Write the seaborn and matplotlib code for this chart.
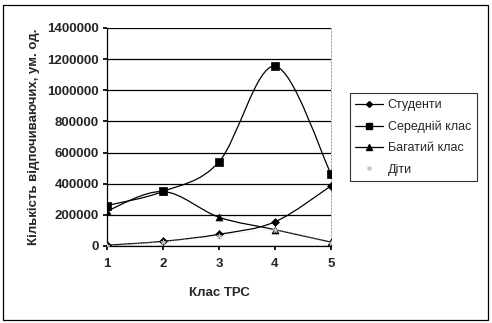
import numpy as np
import pandas as pd
import matplotlib
matplotlib.use("Agg")
import matplotlib.pyplot as plt
from matplotlib.path import Path
from matplotlib.patches import PathPatch, Rectangle
from matplotlib.lines import Line2D
import seaborn as sns

classes = [1, 2, 3, 4, 5]
students = [5000, 30000, 75000, 155000, 385000]
middle = [260000, 350000, 540000, 1155000, 465000]
rich = [225000, 350000, 185000, 105000, 25000]
children = [2000, 28000, 65000, 100000, 20000]
series_names = ["Студенти", "Середній клас", "Багатий клас", "Діти"]

sns.set_theme(style="white")
plt.rcParams['font.family'] = ['Liberation Sans', 'DejaVu Sans']

df = pd.DataFrame({
    "x": classes * 4,
    "y": students + middle + rich + children,
    "s": sum([[n] * 5 for n in series_names], []),
})

fig = plt.figure(figsize=(4.92, 3.23), dpi=100)
ax = fig.add_axes([0.2175, 0.2384, 0.455, 0.675])

colors = {"Студенти": "black", "Середній клас": "black", "Багатий клас": "black", "Діти": "#c8c8c8"}
markers = {"Студенти": "D", "Середній клас": "s", "Багатий клас": "^", "Діти": "*"}
msizes = {"Студенти": 4, "Середній клас": 6, "Багатий клас": 5, "Діти": 4}


def smooth_path(xs, ys, t=1 / 6):
    xs = np.asarray(xs, float); ys = np.asarray(ys, float)
    verts = [(xs[0], ys[0])]
    codes = [Path.MOVETO]
    n = len(xs)
    for i in range(n - 1):
        p0 = np.array([xs[max(i - 1, 0)], ys[max(i - 1, 0)]])
        p1 = np.array([xs[i], ys[i]])
        p2 = np.array([xs[i + 1], ys[i + 1]])
        p3 = np.array([xs[min(i + 2, n - 1)], ys[min(i + 2, n - 1)]])
        c1 = p1 + (p2 - p0) * t
        c2 = p2 - (p3 - p1) * t
        verts += [tuple(c1), tuple(c2), tuple(p2)]
        codes += [Path.CURVE4] * 3
    return Path(verts, codes)


for name in series_names:
    sub = df[df.s == name]
    lw = 0.6 if name == "Діти" else 0.9
    ls = (0, (1, 2)) if name == "Діти" else "-"
    ax.add_patch(PathPatch(smooth_path(sub.x, sub.y), facecolor="none",
                           edgecolor=colors[name], lw=lw, linestyle=ls, zorder=3))
    sns.scatterplot(data=sub, x="x", y="y", ax=ax, marker=markers[name],
                    s=msizes[name] ** 2, color=colors[name], edgecolor=colors[name],
                    linewidth=0.5, zorder=4, legend=False)

ax.set_xlim(1, 5)
ax.set_ylim(0, 1400000)
ax.set_xticks(classes)
ax.set_yticks(np.arange(0, 1400001, 200000))
ax.set_yticklabels([f"{v:d}" for v in np.arange(0, 1400001, 200000)])
ax.yaxis.grid(True, color="black", lw=0.9)
ax.set_axisbelow(True)
ax.spines["top"].set_visible(False)
ax.spines["right"].set_color("#999999")
ax.spines["right"].set_linestyle((0, (2, 2)))
ax.spines["right"].set_linewidth(0.6)
for sp in ["left", "bottom"]:
    ax.spines[sp].set_color("black")
    ax.spines[sp].set_linewidth(0.9)
ax.tick_params(axis="both", labelsize=9.5, length=3, color="black", direction="out",
               left=True, bottom=True, pad=3)
ax.tick_params(axis="x", pad=6)
for lab in ax.get_xticklabels() + ax.get_yticklabels():
    lab.set_fontweight("bold")
ax.set_xlabel("Клас ТРС", fontsize=9.5, fontweight="bold", labelpad=12)
ax.set_ylabel("Кількість відпочиваючих, ум. од.", fontsize=9.5, fontweight="bold", labelpad=5)

handles = []
for name in series_names:
    handles.append(Line2D([0], [0], color=colors[name], lw=0.9 if name != "Діти" else 0,
                          marker=markers[name], markersize=msizes[name] - 1,
                          markerfacecolor=colors[name], markeredgecolor=colors[name]))
leg = fig.legend(handles, series_names, loc="upper left", bbox_to_anchor=(0.698, 0.73),
                 fontsize=9, frameon=True, fancybox=False, edgecolor="black",
                 handlelength=2.2, handletextpad=0.4, borderpad=0.45, labelspacing=0.75)
leg.get_frame().set_linewidth(0.8)

fig.patches.append(Rectangle((0.006, 0.01), 0.985, 0.975, transform=fig.transFigure,
                             fill=False, edgecolor="black", lw=0.9))

fig.savefig("out.png", dpi=100, facecolor="white")
